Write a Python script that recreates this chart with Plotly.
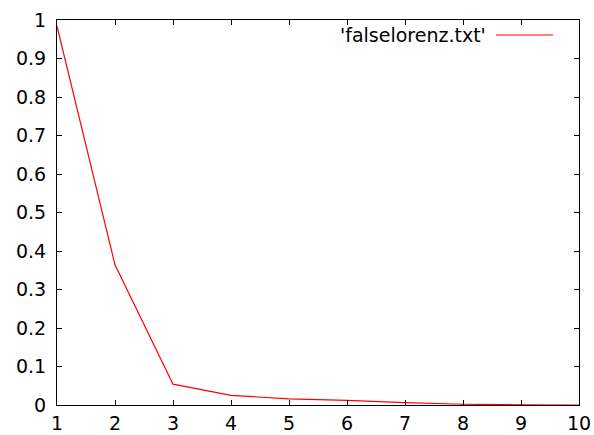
import plotly.graph_objects as go

x_vals = [1, 2, 3, 4, 5, 6, 7, 8, 9, 10]
y_vals = [0.984, 0.364, 0.054, 0.025, 0.016, 0.012, 0.006, 0.002, 0.0005, 0.0]
series_name = "'falselorenz.txt'"
x_ticks = [1, 2, 3, 4, 5, 6, 7, 8, 9, 10]
y_ticks = [0, 0.1, 0.2, 0.3, 0.4, 0.5, 0.6, 0.7, 0.8, 0.9, 1]
y_tick_text = ["0", "0.1", "0.2", "0.3", "0.4", "0.5", "0.6", "0.7", "0.8", "0.9", "1"]

FONT = "DejaVu Sans, sans-serif"
FSIZE = 19

fig = go.Figure()
fig.add_trace(go.Scatter(x=x_vals, y=y_vals, mode="lines",
                         line=dict(color="#ff0000", width=1.2),
                         name=series_name, showlegend=False))

axis_common = dict(showline=True, linecolor="black", linewidth=1, mirror="ticks",
                   ticks="inside", ticklen=5, tickcolor="black", tickwidth=1,
                   showgrid=False, zeroline=False, automargin=False,
                   tickfont=dict(family=FONT, size=FSIZE, color="black"))

fig.update_layout(
    width=594, height=435,
    margin=dict(l=57, r=15, t=20, b=30),
    paper_bgcolor="white", plot_bgcolor="white",
    xaxis=dict(range=[1, 10], tickvals=x_ticks, ticklabelstandoff=1, **axis_common),
    yaxis=dict(range=[0, 1], tickvals=y_ticks, ticktext=y_tick_text, ticklabelstandoff=6, **axis_common),
)

fig.add_annotation(xref="paper", yref="paper", x=(488 - 57) / 522, y=(405 - 35) / 385,
                   text=series_name, showarrow=False, xanchor="right", yanchor="middle",
                   font=dict(family=FONT, size=FSIZE, color="black"))
fig.add_shape(type="line", xref="paper", yref="paper",
              x0=(496 - 57) / 522, x1=(553 - 57) / 522,
              y0=(405 - 35) / 385, y1=(405 - 35) / 385,
              line=dict(color="#ff0000", width=1.2))

fig.write_html("out.html")
